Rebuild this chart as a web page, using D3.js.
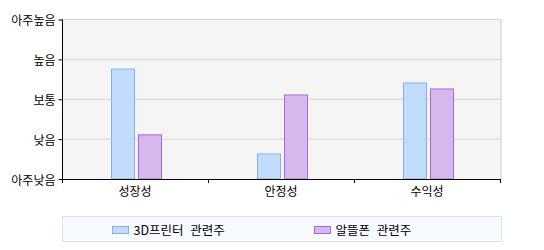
<!DOCTYPE html>
<html>
<head>
<meta charset="utf-8">
<script src="https://cdn.jsdelivr.net/npm/d3@7"></script>
<style>
body { margin: 0; background: #fff; }
text { font-family: "Noto Sans CJK KR", "Noto Sans", sans-serif; }
</style>
</head>
<body>
<div class="chart"></div>
<script>
var categories = ['성장성', '안정성', '수익성'];
var seriesNames = ['3D프린터 관련주', '알뜰폰 관련주'];
var printer3d = [2.77, 0.64, 2.42];
var mvno = [1.12, 2.12, 2.27];
var levelLabels = ['아주낮음', '낮음', '보통', '높음', '아주높음'];

var fills = ['#c2dcfe', '#d5b8ee'];
var strokes = ['#8aaeea', '#a86ad6'];

var svg = d3.select('.chart')
	.append('svg')
	.attr('width', 544)
	.attr('height', 250);

var x0 = 62, x1 = 500, yTop = 19.5, yBot = 179;

var xScale = d3.scaleBand()
	.domain(categories)
	.range([x0, x1]);

var yScale = d3.scaleLinear()
	.domain([0, levelLabels.length - 1])
	.range([yBot, yTop]);

// plot background
svg.append('rect')
	.attr('x', x0)
	.attr('y', yTop)
	.attr('width', x1 - x0 + 0.5)
	.attr('height', yBot - yTop)
	.attr('fill', '#f5f5f5');

svg.append('line')
	.attr('x1', x1 + 1).attr('x2', x1 + 1)
	.attr('y1', yTop).attr('y2', yBot)
	.attr('stroke', '#c8c8c8');

// grid
svg.selectAll('.grid')
	.data(d3.range(1, levelLabels.length))
	.enter()
	.append('line')
	.attr('class', 'grid')
	.attr('x1', x0).attr('x2', x1 + 1)
	.attr('y1', function (d) { return yScale(d); })
	.attr('y2', function (d) { return yScale(d); })
	.attr('stroke', '#d6d6d6');

// bars
var data = categories.map(function (c, i) {
	return {cat: c, values: [printer3d[i], mvno[i]]};
});

var barW = 24;
data.forEach(function (d) {
	var cx = xScale(d.cat) + xScale.bandwidth() / 2;
	d.values.forEach(function (v, j) {
		var bx = j === 0 ? cx - barW : cx + 3;
		svg.append('rect')
			.attr('x', bx + 0.5)
			.attr('y', yScale(v) + 0.5)
			.attr('width', barW - 1)
			.attr('height', yBot - yScale(v) - 0.5)
			.attr('fill', fills[j])
			.attr('stroke', strokes[j])
			.attr('stroke-width', 1);
	});
});

// y axis
var yAxis = d3.axisLeft(yScale)
	.ticks(levelLabels.length - 1)
	.tickSize(4)
	.tickPadding(3)
	.tickFormat(function (d) { return levelLabels[d]; });

var gy = svg.append('g')
	.attr('class', 'yaxis')
	.attr('transform', 'translate(' + (x0 + 0.5) + ',0)')
	.call(yAxis);
gy.select('.domain').attr('d', 'M0,' + yTop + 'V' + yBot);
gy.selectAll('text').style('font-size', '12px').attr('fill', '#000').attr('dy', '0.42em');

// x axis
var xAxis = d3.axisBottom(xScale)
	.tickSize(0)
	.tickPadding(8);

var gx = svg.append('g')
	.attr('class', 'xaxis')
	.attr('transform', 'translate(0,' + (yBot + 0.5) + ')')
	.call(xAxis);
gx.select('.domain').attr('d', 'M' + x0 + ',0H' + x1);
gx.selectAll('text').style('font-size', '12px').attr('fill', '#000');

var bounds = categories.map(function (c) { return xScale(c) + xScale.bandwidth(); });
bounds.unshift(x0);
svg.selectAll('.xtick')
	.data(bounds)
	.enter()
	.append('line')
	.attr('class', 'xtick')
	.attr('x1', function (d) { return Math.round(d) + 0.5; })
	.attr('x2', function (d) { return Math.round(d) + 0.5; })
	.attr('y1', yBot).attr('y2', yBot + 4)
	.attr('stroke', '#000');

// legend
svg.append('rect')
	.attr('x', 62.5).attr('y', 216.5)
	.attr('width', 439).attr('height', 25)
	.attr('fill', '#f7faff')
	.attr('stroke', '#dce3ee');

var legendX = [112.5, 314.5];
seriesNames.forEach(function (name, j) {
	svg.append('rect')
		.attr('x', legendX[j]).attr('y', 226.5)
		.attr('width', 16).attr('height', 7)
		.attr('fill', fills[j])
		.attr('stroke', strokes[j]);
	svg.append('text')
		.attr('x', legendX[j] + 21)
		.attr('y', 234.5)
		.style('font-size', '12.5px')
		.style('word-spacing', '4px')
		.attr('fill', '#000')
		.text(name);
});
</script>
</body>
</html>
